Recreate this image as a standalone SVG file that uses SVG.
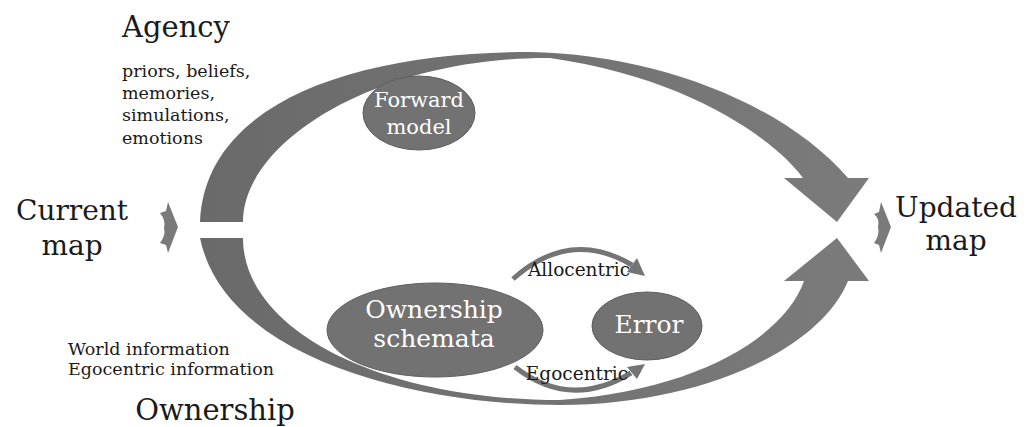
<svg xmlns="http://www.w3.org/2000/svg" width="1029" height="427" viewBox="0 0 1029 427">
  <style>
    .lbl { font-family: "DejaVu Serif", "Liberation Serif", serif; fill: #1a1a1a; }
    .big { font-size: 28px; }
    .small { font-size: 17.5px; }
    .node-text { font-family: "DejaVu Serif", "Liberation Serif", serif; fill: #ffffff; text-anchor: middle; }
    .node { fill: #727272; stroke: #5e5e5e; stroke-width: 1; }
    .band { fill: url(#bandShade); }
    .chev { fill: #7a7a7a; }
    .arc { fill: none; stroke: #747474; stroke-width: 5; }
    .head { fill: #747474; }
  </style>
  <defs>
    <linearGradient id="bandShade" x1="0" y1="0" x2="1" y2="0">
      <stop offset="0" stop-color="#6a6a6a"/>
      <stop offset="1" stop-color="#7b7b7b"/>
    </linearGradient>
  </defs>

  <rect width="1029" height="427" fill="#ffffff"/>

  <!-- connectors -->
  <g id="connectors">
    <!-- upper loop: agency path into the updated map -->
    <path class="band" d="M200,222 C205,100 360,52 530,52 C650,54 780,100 848,178 L869,178 L837,222 L784,178 L803,178 C775,140 690,78 550,58 C380,57 243,140 243,222 Z"/>
    <!-- lower loop: ownership path into the updated map -->
    <path class="band" d="M200,238 C225,360 420,405 560,405 C700,405 820,350 848,281 L869,281 L837,238 L784,281 L804,281 C785,335 700,390 560,400 C380,400 243,330 243,238 Z"/>
    <!-- input chevron -->
    <path class="chev" d="M168,202 L178,227 L168,253 L166,245 L160,243 Q166,235 164,228 Q166,220 160,213 L166,211 Z"/>
    <!-- output chevron -->
    <path class="chev" d="M881,202 L891,227 L881,253 L879,245 L874,243 Q880,235 878,227 Q880,219 874,214 L879,212 Z"/>
    <!-- allocentric arc -->
    <path class="arc" d="M513,279 Q570,228 632,265"/>
    <polygon class="head" points="645,276 627,272 637,258"/>
    <!-- egocentric arc -->
    <path class="arc" d="M515,367 Q570,410 631,373"/>
    <polygon class="head" points="645,364 637,379 627,367"/>
  </g>

  <g id="forward-model">
    <ellipse class="node" cx="419" cy="113" rx="56" ry="37"/>
    <text class="node-text" x="419" y="107" font-size="21">Forward</text>
    <text class="node-text" x="419" y="134" font-size="21">model</text>
  </g>

  <g id="ownership-schemata">
    <ellipse class="node" cx="435" cy="330" rx="108" ry="47"/>
    <text class="node-text" x="434" y="318" font-size="25">Ownership</text>
    <text class="node-text" x="434" y="347" font-size="25">schemata</text>
  </g>

  <g id="error">
    <ellipse class="node" cx="647" cy="326" rx="55" ry="34"/>
    <text class="node-text" x="649" y="333" font-size="25">Error</text>
  </g>

  <g id="arc-labels">
    <text class="lbl" x="579" y="276" font-size="18.5" text-anchor="middle">Allocentric</text>
    <text class="lbl" x="577" y="380" font-size="18.5" text-anchor="middle">Egocentric</text>
  </g>

  <g id="agency">
    <text class="lbl" x="122" y="37" font-size="29">Agency</text>
    <text class="lbl small" x="122" y="77">priors, beliefs,</text>
    <text class="lbl small" x="122" y="99">memories,</text>
    <text class="lbl small" x="122" y="121">simulations,</text>
    <text class="lbl small" x="122" y="144">emotions</text>
  </g>

  <g id="current-map">
    <text class="lbl big" x="72" y="220" text-anchor="middle">Current</text>
    <text class="lbl big" x="72" y="255" text-anchor="middle">map</text>
  </g>

  <g id="updated-map">
    <text class="lbl big" x="956" y="217" text-anchor="middle">Updated</text>
    <text class="lbl big" x="956" y="250" text-anchor="middle">map</text>
  </g>

  <g id="ownership">
    <text class="lbl small" x="68" y="355">World information</text>
    <text class="lbl small" x="68" y="375">Egocentric information</text>
    <text class="lbl" x="215" y="420" font-size="29" text-anchor="middle">Ownership</text>
  </g>
</svg>
